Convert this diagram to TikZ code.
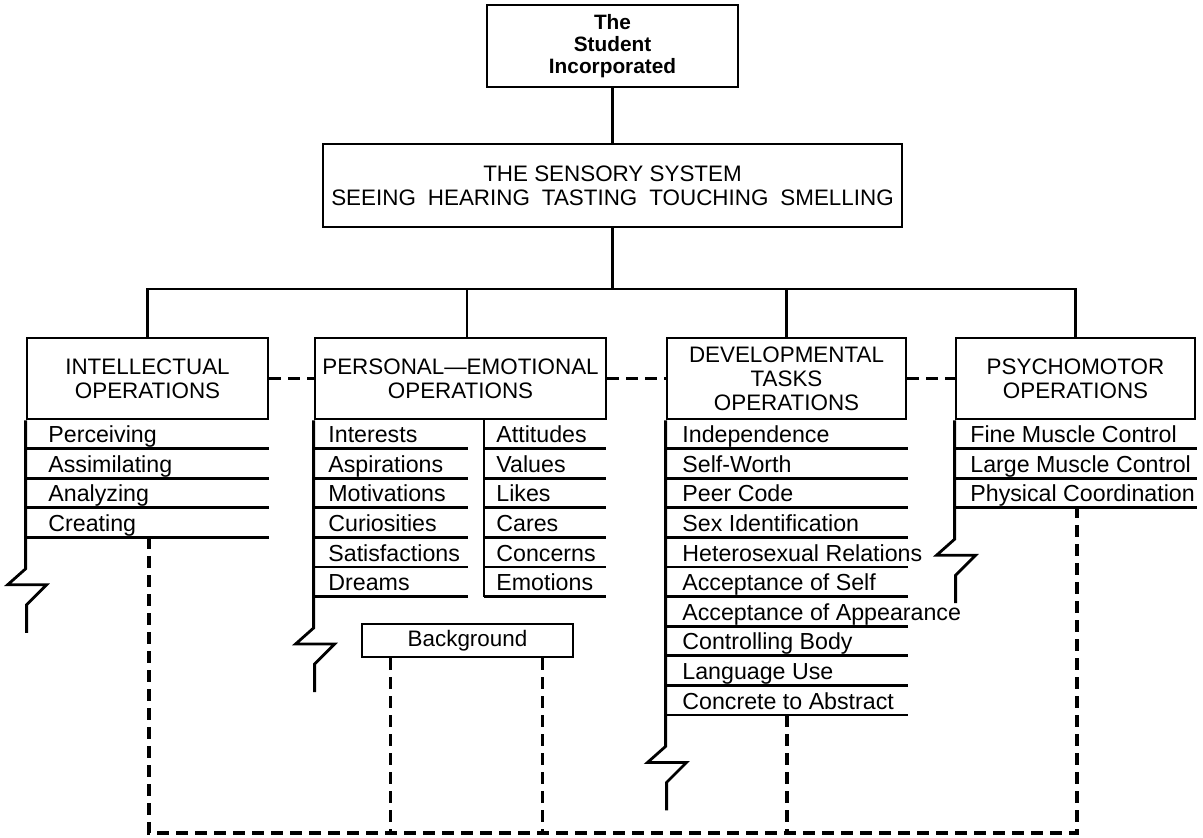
\documentclass[tikz,border=0pt]{standalone}
\usepackage{fontspec}
\setmainfont{Liberation Sans}

% broken line below a list: #1 = box, #2 = number of rows
\newcommand{\splitmark}[2]{%
  \draw[link] (#1.south west) -- ++(0,{#2*29.6+30}) -- ++(-18,16) -- ++(39,0) -- ++(-20,20) -- ++(0,28);}

\begin{document}
\begin{tikzpicture}[x=0.5pt,y=-0.5pt,
  box/.style={draw, line width=1.4pt, align=center, inner sep=0pt, font=\fontsize{11.2}{12}\selectfont},
  item/.style={anchor=base west, inner sep=0pt, font=\fontsize{11.6}{12}\selectfont},
  link/.style={line width=1.4pt},
  dashlink/.style={line width=1.6pt, dash pattern=on 6pt off 3.5pt}]

  \useasboundingbox (0,0) rectangle (1203,838);

  % Top boxes
  \node[box, minimum width=125.5pt, minimum height=41pt, font=\fontsize{10.4}{11}\selectfont\bfseries]
    (student) at (612.5,46) {The\\Student\\Incorporated};
  \node[box, minimum width=289.5pt, minimum height=41.5pt]
    (sensory) at (612.5,185.5) {THE SENSORY SYSTEM\\SEEING\hspace{6pt}HEARING\hspace{6pt}TASTING\hspace{6pt}TOUCHING\hspace{6pt}SMELLING};

  % Operations
  \node[box, minimum width=120.5pt, minimum height=40.5pt] (intel) at (147.5,378.5) {INTELLECTUAL\\OPERATIONS};
  \node[box, minimum width=145.5pt, minimum height=40.5pt] (personal) at (460.5,378.5) {PERSONAL\textemdash EMOTIONAL\\OPERATIONS};
  \node[box, minimum width=119.5pt, minimum height=40.5pt] (develop) at (786.5,378.5) {DEVELOPMENTAL\\TASKS\\OPERATIONS};
  \node[box, minimum width=119.5pt, minimum height=40.5pt] (psycho) at (1075.5,378.5) {PSYCHOMOTOR\\OPERATIONS};
  \node[box, minimum width=105.5pt, minimum height=16.5pt] (background) at (467.5,640.5) {Background};

  % Tree lines
  \coordinate (bus) at (612.5,289);
  \draw[link] (student) -- (sensory);
  \draw[link] (sensory) -- (bus);
  \draw[link] (intel.north) |- (bus) -| (psycho.north);
  \draw[link] ([xshift=3.25pt]personal.north) -- ++(0,-49);
  \draw[link] (develop.north) -- (develop.north |- bus);

  % Dashed links between the boxes
  \draw[dashlink] (intel) -- (personal);
  \draw[dashlink] (personal) -- (develop);
  \draw[dashlink] (develop) -- (psycho);

  % Intellectual list
  \foreach \t [count=\i] in {Perceiving, Assimilating, Analyzing, Creating}{
    \node[item] (intel-\i) at (48,{419+29.6*\i-6}) {\t};
    \draw[link] (27,{419+29.6*\i}) -- ++(242,0);
  }
  \splitmark{intel}{4}

  % Personal list, two columns
  \foreach \t [count=\i] in {Interests, Aspirations, Motivations, Curiosities, Satisfactions, Dreams}{
    \node[item] (pers-a\i) at (328,{419+29.6*\i-6}) {\t};
    \draw[link] (315,{419+29.6*\i}) -- ++(153,0);
  }
  \foreach \t [count=\i] in {Attitudes, Values, Likes, Cares, Concerns, Emotions}{
    \node[item] (pers-b\i) at (496,{419+29.6*\i-6}) {\t};
    \draw[link] (484,{419+29.6*\i}) -- ++(122,0);
  }
  \draw[link] (484,419) -- (484,596.6);
  \splitmark{personal}{6}

  % Developmental list
  \foreach \t [count=\i] in {Independence, Self-Worth, Peer Code, Sex Identification,
      Heterosexual Relations, Acceptance of Self, Acceptance of Appearance,
      Controlling Body, Language Use, Concrete to Abstract}{
    \node[item] (dev-\i) at (682,{419+29.6*\i-6}) {\t};
    \draw[link] (667,{419+29.6*\i}) -- ++(241,0);
  }
  \splitmark{develop}{10}

  % Psychomotor list
  \foreach \t [count=\i] in {Fine Muscle Control, Large Muscle Control, Physical Coordination}{
    \node[item] (psy-\i) at (970,{419+29.6*\i-6}) {\t};
    \draw[link] (956,{419+29.6*\i}) -- ++(241,0);
  }
  \splitmark{psycho}{3}

  % Dashed return lines
  \coordinate (base) at (612,833);
  \coordinate (intel-foot) at (149,537.4);
  \coordinate (dev-foot) at (787,715);
  \coordinate (psy-foot) at (1077,507.8);
  \coordinate (bg-l) at ([xshift=15pt]background.south west);
  \coordinate (bg-r) at ([xshift=-16pt]background.south east);
  \draw[dashlink] (intel-foot) |- (base) -| (psy-foot);
  \draw[dashlink] (bg-l) -- (bg-l |- base);
  \draw[dashlink] (bg-r) -- (bg-r |- base);
  \draw[dashlink] (dev-foot) -- (dev-foot |- base);

\end{tikzpicture}
\end{document}
